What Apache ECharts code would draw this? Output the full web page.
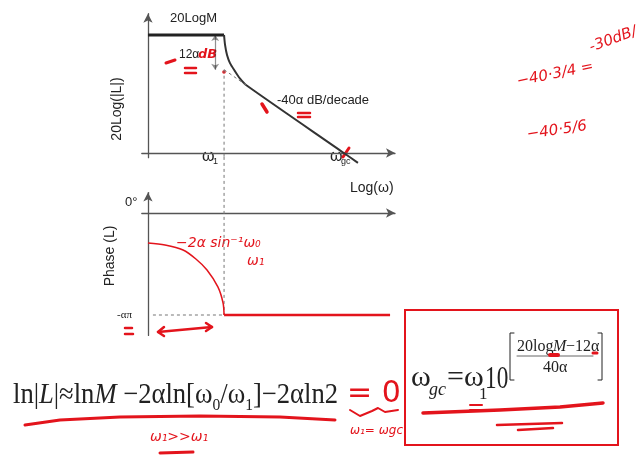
<!DOCTYPE html>
<html><head><meta charset="utf-8">
<script src="https://cdn.jsdelivr.net/npm/echarts@6/dist/echarts.min.js"></script>
<style>html,body{margin:0;padding:0;background:#fff}#c{width:640px;height:463px}</style>
</head><body><div id="c"></div>
<script>
// ---------- data (log-frequency units, dB / phase in units of απ) ----------
const logW1 = 3.08;            // log(ω1)
const logWgc = 7.93;           // log(ωgc)
const gain20LogM = 50;         // 20LogM level
const kneeDrop = 35.3;         // 20LogM − 12α (asymptote value at ω1)
const magFlat = [[0, 50], [3.08, 50]];
const magSlope = [[3.08, 50], [3.12, 45.8], [3.2, 41.5], [3.32, 38.1], [3.52, 34.7], [3.72, 31.6], [3.97, 28.8], [7.93, 0], [8.5, -4.2]];
const magAsymptote = [[3.08, 35.3], [3.97, 28.8]];
const magW1Drop = [[3.08, 35.3], [3.08, -2]];
const dropArrow = [[2.72, 50], [2.72, 35.3]];
const phaseCurve = [[0, -0.294], [0.69, -0.314], [1.42, -0.363], [1.94, -0.451], [2.39, -0.559], [2.83, -0.725], [3.04, -0.882], [3.08, -1]];
const phaseFlat = [[3.08, -1], [9.8, -1]];
const phaseRef = [[0.2, -1], [3.08, -1]];
const phaseW1Drop = [[3.08, 0.55], [3.08, -1]];
const xRange = [-0.25, 10];
const magRange = [-2, 59];
const phaseRange = [-1.2, 0.2];

const RED = '#e3141c';
const INK = '#222';
const AX = '#555';
const SANS = '"Liberation Sans", Arial, sans-serif';
const SERIF = '"Liberation Serif", "Times New Roman", serif';
const HAND = '"DejaVu Sans", sans-serif';

const chart = echarts.init(document.getElementById('c'), null, {renderer: 'canvas'});

function axisLine() {
  return {show: true, onZero: true, symbol: ['none', 'arrow'], symbolSize: [7, 9],
    lineStyle: {color: AX, width: 1.3}};
}
function xAx(g) {
  return {type: 'value', gridIndex: g, min: xRange[0], max: xRange[1], axisLine: axisLine(),
    axisTick: {show: false}, axisLabel: {show: false}, splitLine: {show: false}};
}
function yAx(g, r) {
  return {type: 'value', gridIndex: g, min: r[0], max: r[1], axisLine: axisLine(),
    axisTick: {show: false}, axisLabel: {show: false}, splitLine: {show: false}};
}
function ln(data, g, color, width, extra) {
  return Object.assign({type: 'line', xAxisIndex: g, yAxisIndex: g, data: data, symbol: 'none',
    silent: true, clip: false, animation: false,
    lineStyle: {color: color, width: width}}, extra || {});
}
function dashed(data, g) {
  return ln(data, g, '#777', 1, {lineStyle: {color: '#777', width: 1, type: [3, 3]}});
}

// text helpers
function T(text, x, y, font, fill, opts) {
  return Object.assign({type: 'text', x: x, y: y, silent: true,
    style: Object.assign({text: text, font: font, fill: fill, align: 'left', verticalAlign: 'middle'}, (opts && opts.style) || {})},
    (opts && opts.el) || {});
}
function serifAt(text, x, base, size, italic, sx) {
  return T(text, x, base - 0.34 * size, (italic ? 'italic ' : '') + size + 'px ' + SERIF, INK,
    {el: {scaleX: sx || 1}});
}
const mctx = document.createElement('canvas').getContext('2d');
function serifRun(x0, base, targetW, segs) {
  let x = 0; const parts = [];
  segs.forEach(s => {
    const size = s.size || 29;
    const font = (s.it ? 'italic ' : '') + size + 'px ' + SERIF;
    mctx.font = font;
    const w = mctx.measureText(s.t).width;
    parts.push({s: s, font: font, size: size, x: x});
    x += w;
  });
  const f = targetW / x;
  return parts.map(p => T(p.s.t, x0 + p.x * f, base + (p.s.dy || 0) - 0.34 * p.size, p.font, INK,
    {el: {scaleX: f}}));
}
function stroke(points, w, color) {
  return {type: 'polyline', silent: true, shape: {points: points},
    style: {stroke: color || RED, lineWidth: w, fill: null, lineCap: 'round', lineJoin: 'round'}};
}
function hand(text, x, y, size, rot, bold) {
  return T(text, x, y, 'italic ' + (bold ? 'bold ' : '') + size + 'px ' + HAND, RED,
    {el: {rotation: rot || 0}});
}

const graphics = [
  // axis labels (top)
  T('20LogM', 170, 18, '13px ' + SANS, INK),
  T('12α', 179, 55, '12px ' + SANS, INK),
  T('-40α dB/decade', 277, 100, '13px ' + SANS, INK),
  T('ω', 202, 157, '16px ' + SANS, INK), T('1', 213, 162, '9px ' + SANS, INK),
  T('ω', 330, 157, '16px ' + SANS, INK), T('gc', 341, 162, '9px ' + SANS, INK),
  T('20Log(|L|)', 117, 109, '14px ' + SANS, INK, {el: {rotation: Math.PI / 2}, style: {align: 'center'}}),
  T('Log(ω)', 350, 188, '14px ' + SANS, INK),
  // phase labels
  T('0°', 125, 202, '13px ' + SANS, INK),
  T('Phase (L)', 110, 256, '14px ' + SANS, INK, {el: {rotation: Math.PI / 2}, style: {align: 'center'}}),
  T('-απ', 117, 315, '11px ' + SERIF, INK),

  // box
  {type: 'rect', silent: true, shape: {x: 405, y: 310, width: 213, height: 135},
    style: {fill: null, stroke: RED, lineWidth: 2}},
  serifAt('ω', 411, 388, 30), serifAt('gc', 429, 396, 18, true),
  serifAt('=ω', 447, 388, 30), serifAt('1', 479, 400, 17),
  serifAt('10', 485, 390, 31, false, 0.75),
  stroke([[514, 333], [510, 333], [510, 380], [514, 380]], 1, INK),
  stroke([[598, 333], [602, 333], [602, 380], [598, 380]], 1, INK),
  serifAt('20log', 517, 352, 16), serifAt('M', 553, 352, 16, true), serifAt('−12α', 566, 352, 16),
  stroke([[517, 356], [593, 356]], 1, '#666'),
  serifAt('40α', 543, 373, 16),
].concat(
  serifRun(13, 405, 325, [{t: 'ln|'}, {t: 'L', it: 1}, {t: '|≈ln'}, {t: 'M', it: 1}, {t: ' −2αln[ω'},
    {t: '0', size: 17, dy: 6}, {t: '/ω'}, {t: '1', size: 17, dy: 6}, {t: ']−2αln2'}])
).concat([
  // handwritten red annotations
  stroke([[166, 63], [175, 60]], 3),
  stroke([[185, 68], [196, 68]], 2.5), stroke([[185, 73], [196, 73]], 2.5),
  hand('dB', 198, 55, 13, 0, true),
  {type: 'circle', silent: true, shape: {cx: 224, cy: 72, r: 1.8}, style: {fill: RED}},
  stroke([[262, 104], [267, 112]], 3.5),
  stroke([[298, 113], [310, 113]], 2.5), stroke([[298, 117], [310, 117]], 2.5),
  stroke([[343, 157], [349, 148]], 3),
  hand('−2α sin⁻¹ω₀', 176, 243, 14),
  hand('ω₁', 247, 261, 14),
  stroke([[125, 328], [132, 328]], 2.5), stroke([[125, 334], [133, 334]], 2.5),
  stroke([[158, 332], [212, 327]], 2.5),
  stroke([[164, 327], [158, 332], [164, 336]], 2.5),
  stroke([[206, 323], [212, 327], [206, 331]], 2.5),
  stroke([[25, 425], [60, 420], [120, 417], [200, 416], [280, 417], [335, 420]], 3),
  hand('ω₁>>ω₁', 150, 437, 14),
  stroke([[160, 453], [193, 452]], 3),
  T('= 0', 347, 394, '30px ' + HAND, RED),
  stroke([[350, 410], [360, 416], [372, 411], [378, 408], [385, 412], [398, 410]], 2),
  hand('ω₁= ωgc', 350, 431, 12),
  stroke([[423, 413], [500, 410], [560, 407], [603, 403]], 3.5),
  stroke([[497, 425], [562, 423]], 2.5), stroke([[518, 430], [553, 428]], 2.5),
  stroke([[470, 405], [482, 405]], 2), stroke([[470, 410], [482, 410]], 2),
  stroke([[550, 355], [558, 355]], 4), stroke([[593, 353], [597, 353]], 3),
  hand('−40·3/4 =', 517, 82, 15, 0.2),
  hand('-30dB/', 590, 48, 15, 0.35),
  hand('−40·5/6', 527, 135, 15, 0.15),
]);

chart.setOption({
  animation: false,
  backgroundColor: '#fff',
  grid: [
    {left: 141.8, top: 13.76, width: 253.2, height: 143.96},
    {left: 141.8, top: 192.6, width: 253.2, height: 142.8}
  ],
  xAxis: [xAx(0), xAx(1)],
  yAxis: [yAx(0, magRange), yAx(1, phaseRange)],
  series: [
    ln(magFlat, 0, INK, 3),
    ln(magSlope, 0, '#333', 2, {smooth: 0.25}),
    dashed(magAsymptote, 0),
    dashed(magW1Drop, 0),
    {type: 'lines', coordinateSystem: 'cartesian2d', xAxisIndex: 0, yAxisIndex: 0, silent: true,
      symbol: ['arrow', 'arrow'], symbolSize: 6,
      lineStyle: {color: INK, width: 1.2, curveness: 0},
      data: [{coords: dropArrow}]},
    dashed(phaseW1Drop, 1),
    dashed(phaseRef, 1),
    ln(phaseCurve, 1, RED, 1.5, {smooth: 0.3}),
    ln(phaseFlat, 1, RED, 2.5)
  ],
  graphic: graphics
});
</script>
</body></html>
